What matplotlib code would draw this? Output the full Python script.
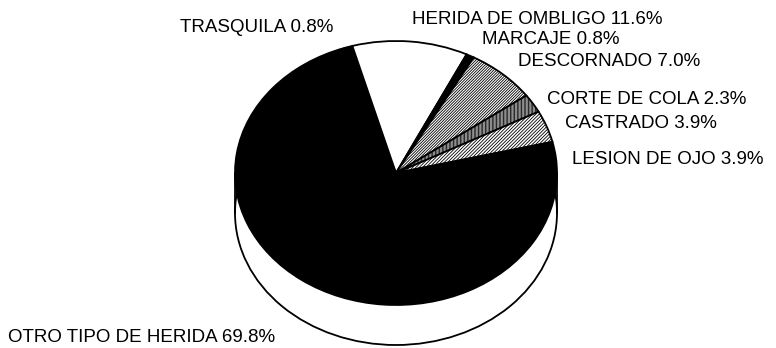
import matplotlib
matplotlib.use("Agg")
import matplotlib.pyplot as plt
from matplotlib.patches import Ellipse

# Datos del grafico (porcentajes por tipo de herida)
categorias = ["TRASQUILA", "HERIDA DE OMBLIGO", "MARCAJE", "DESCORNADO",
              "CORTE DE COLA", "CASTRADO", "LESION DE OJO", "OTRO TIPO DE HERIDA"]
porcentajes = [0.8, 11.6, 0.8, 7.0, 2.3, 3.9, 3.9, 69.8]

colores = ["black", "white", "black", "white", "white", "white", "black", "black"]
tramas = [None, None, None, "/" * 12, "|" * 12, "/" * 10, None, None]

# posicion de cada etiqueta (pixeles, esquina sup. izquierda = 0,0)
pos_etiquetas = [(180, 28), (412, 19), (482, 39), (518, 62),
                 (547, 99), (565, 123), (572, 160), (8, 338)]

plt.rcParams["font.family"] = ["Liberation Sans", "DejaVu Sans"]
plt.rcParams["hatch.linewidth"] = 0.6

W, H = 776, 348
fig = plt.figure(figsize=(W / 100, H / 100), dpi=100)

# ejes de fondo en pixeles para los textos
fondo = fig.add_axes([0, 0, 1, 1])
fondo.set_xlim(0, W)
fondo.set_ylim(H, 0)
fondo.axis("off")

# pastel inclinado: cara superior eliptica
cx, cy, a, b = 396, 173, 161, 132
prof = 40 / b
ax = fig.add_axes([(cx - a) / W, (H - (cy + b)) / H, 2 * a / W, 2 * b / H])
ax.axis("off")

# costado del pastel
ax.add_patch(Ellipse((0, -prof), 2, 2, facecolor="white", edgecolor="black",
                     lw=1.3, zorder=0, clip_on=False))
ax.plot([-1, -1], [0, -prof], color="black", lw=1.3, zorder=0, clip_on=False)
ax.plot([1, 1], [0, -prof], color="black", lw=1.3, zorder=0, clip_on=False)

cunas, _ = ax.pie(porcentajes, colors=colores, startangle=108.6, counterclock=False,
                  radius=1, wedgeprops=dict(edgecolor="black", linewidth=1.3))
for cuna, trama in zip(cunas, tramas):
    if trama:
        cuna.set_hatch(trama)
    cuna.set_zorder(2)

ax.set_aspect("auto")
ax.set_xlim(-1, 1)
ax.set_ylim(-1, 1)

for nombre, valor, (x, y) in zip(categorias, porcentajes, pos_etiquetas):
    fondo.text(x, y, f"{nombre} {valor:.1f}%", fontsize=13.5, ha="left", va="center")

fig.savefig("out.png", dpi=100)
